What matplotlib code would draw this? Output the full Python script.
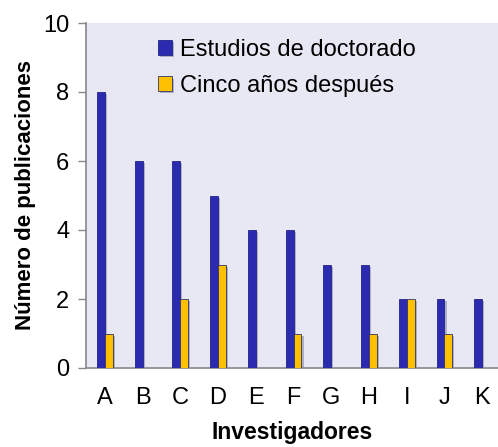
import numpy as np
import matplotlib.pyplot as plt
import matplotlib.patheffects as pe

investigadores = ['A', 'B', 'C', 'D', 'E', 'F', 'G', 'H', 'I', 'J', 'K']
doctorado = [8, 6, 6, 5, 4, 4, 3, 3, 2, 2, 2]
cinco_anios = [1, 0, 2, 3, 0, 1, 0, 1, 2, 1, 0]

plt.rcParams['font.family'] = ['Liberation Sans', 'DejaVu Sans']

fig = plt.figure(figsize=(4.98, 4.47), dpi=100)
ax = fig.add_axes([86 / 498, 1 - 368 / 447, 1 - 86 / 498, (368 - 23) / 447])
ax.set_facecolor('#E8E8F4')

x = np.arange(len(investigadores))
w = 0.21
shadow = [pe.SimplePatchShadow(offset=(1.5, -1.5), shadow_rgbFace='#8888AA', alpha=0.6), pe.Normal()]

b1 = ax.bar(x - w / 2, doctorado, w, color='#2B2BB0', edgecolor='#22228A', linewidth=0.6,
            label='Estudios de doctorado', zorder=3)
b2 = ax.bar(x + w / 2, cinco_anios, w, color='#FFC000', edgecolor='#333366', linewidth=0.6,
            label='Cinco años después', zorder=3)
for r in list(b1) + list(b2):
    if r.get_height() > 0:
        r.set_path_effects(shadow)
    else:
        r.set_visible(False)

ax.set_xlim(-0.5, 10.42)
ax.set_ylim(0, 10)
ax.set_yticks([0, 2, 4, 6, 8, 10])
ax.set_xticks(x)
ax.set_xticklabels(investigadores)
ax.tick_params(axis='y', labelsize=17, color='#888888', length=6, width=1, pad=6)
ax.tick_params(axis='x', labelsize=17, length=0, pad=14)

for s in ['top', 'right']:
    ax.spines[s].set_visible(False)
for s in ['left', 'bottom']:
    ax.spines[s].set_color('#888888')
    ax.spines[s].set_linewidth(1.2)

ax.set_xlabel('Investigadores', fontsize=16.5, fontweight='bold', labelpad=8)
ax.set_ylabel('Número de publicaciones', fontsize=16, fontweight='bold', labelpad=5)

leg = ax.legend(loc='upper left', bbox_to_anchor=(0.122, 1.015), frameon=False, fontsize=17,
                handlelength=0.6, handleheight=0.6, handletextpad=0.35, labelspacing=0.6)

fig.savefig('out.png', dpi=100)
